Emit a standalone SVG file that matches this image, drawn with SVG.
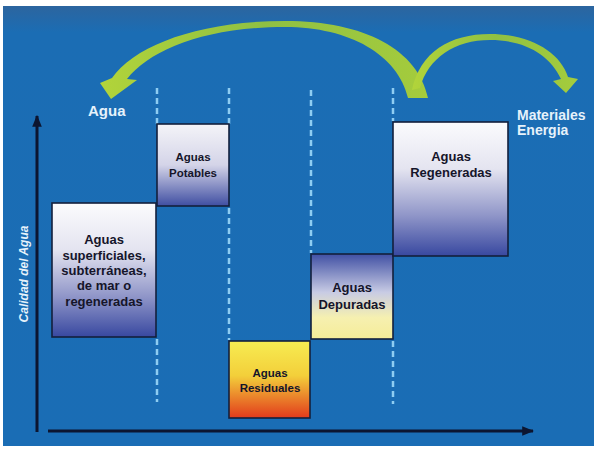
<svg xmlns="http://www.w3.org/2000/svg" width="594" height="449" viewBox="0 0 594 449">
<defs>
<linearGradient id="bg" x1="0" y1="0" x2="0" y2="1">
<stop offset="0" stop-color="#2c659f"/>
<stop offset="0.06" stop-color="#1b6db4"/>
<stop offset="1" stop-color="#1a6db5"/>
</linearGradient>
<linearGradient id="gWhiteBlue" x1="0" y1="0" x2="0" y2="1">
<stop offset="0" stop-color="#fbfbfd"/>
<stop offset="0.35" stop-color="#e4e4f0"/>
<stop offset="0.7" stop-color="#8f95c8"/>
<stop offset="1" stop-color="#3848a0"/>
</linearGradient>
<linearGradient id="gPot" x1="0" y1="0" x2="0" y2="1">
<stop offset="0" stop-color="#f4f4f8"/>
<stop offset="0.5" stop-color="#d4d4e8"/>
<stop offset="1" stop-color="#3f4ea2"/>
</linearGradient>
<linearGradient id="gRes" x1="0" y1="0" x2="0" y2="1">
<stop offset="0" stop-color="#f7ec52"/>
<stop offset="0.45" stop-color="#f3cf3a"/>
<stop offset="1" stop-color="#e23a1c"/>
</linearGradient>
<linearGradient id="gDep" x1="0" y1="0" x2="0" y2="1">
<stop offset="0" stop-color="#4050a4"/>
<stop offset="0.45" stop-color="#c8cbe4"/>
<stop offset="0.75" stop-color="#f6f0b0"/>
<stop offset="1" stop-color="#f5ec98"/>
</linearGradient>
<linearGradient id="gGreen" x1="0" y1="0" x2="1" y2="0">
<stop offset="0" stop-color="#b2d43a"/>
<stop offset="0.5" stop-color="#8fc043"/>
<stop offset="1" stop-color="#a5cc3c"/>
</linearGradient>
<marker id="ah" viewBox="0 0 10 10" refX="9" refY="5" markerWidth="4" markerHeight="4" orient="auto" markerUnits="strokeWidth">
<path d="M0,1 L10,5 L0,9 Z" fill="#0c1530"/>
</marker>
<style>
.box{stroke:#13203c;stroke-width:1.6}
.dash{stroke:#8ecdf2;stroke-width:2.5;stroke-dasharray:6 4;fill:none}
.axis{stroke:#0c1530;stroke-width:3;fill:none}
.bt{font-family:"Liberation Sans",Arial,sans-serif;font-weight:bold;fill:#15152a;text-anchor:middle}
.wt{font-family:"Liberation Sans",Arial,sans-serif;font-weight:bold;fill:#e6f2fb}
.arrow{fill:url(#gGreen)}
</style>
</defs>
<rect x="3" y="6" width="591" height="440" fill="url(#bg)"/>

<g id="connectors">
<line class="dash" x1="157" y1="88" x2="157" y2="124"/>
<line class="dash" x1="157" y1="339" x2="157" y2="402"/>
<line class="dash" x1="229" y1="88" x2="229" y2="124"/>
<line class="dash" x1="229" y1="208" x2="229" y2="340"/>
<line class="dash" x1="311" y1="90" x2="311" y2="253"/>
<line class="dash" x1="393" y1="88" x2="393" y2="121"/>
<line class="dash" x1="393" y1="341" x2="393" y2="404"/>
<path class="arrow" d="M 428 98 C 418 50, 365 21, 285 21 C 200 21, 135 45, 112 78 L 100 83 L 111 99 L 137 80 L 127 79 C 150 50, 205 27, 285 27 C 350 27, 398 55, 408 98 Z"/>
<path class="arrow" d="M 412 90 C 420 52, 450 34, 490 34 C 530 34, 560 52, 568 77 L 578 79 L 566 93 L 553 81 L 561 79 C 550 55, 525 40, 490 40 C 455 40, 428 58, 420 88 Z"/>
<line class="axis" x1="37" y1="432" x2="37" y2="116" marker-end="url(#ah)"/>
<line class="axis" x1="48" y1="431" x2="533" y2="431" marker-end="url(#ah)"/>
</g>

<g id="superficiales">
<rect class="box" x="52" y="203" width="104" height="134" fill="url(#gWhiteBlue)"/>
<text class="bt" font-size="13" x="104" y="244">Aguas</text>
<text class="bt" font-size="13" x="104" y="260">superficiales,</text>
<text class="bt" font-size="13" x="104" y="275">subterráneas,</text>
<text class="bt" font-size="13" x="104" y="290">de mar o</text>
<text class="bt" font-size="13" x="104" y="306">regeneradas</text>
</g>

<g id="potables">
<rect class="box" x="157" y="124" width="72" height="82" fill="url(#gPot)"/>
<text class="bt" font-size="11.5" x="193" y="161">Aguas</text>
<text class="bt" font-size="11.5" x="193" y="177">Potables</text>
</g>

<g id="residuales">
<rect class="box" x="229" y="341" width="81" height="77" fill="url(#gRes)"/>
<text class="bt" font-size="11.5" x="270" y="377">Aguas</text>
<text class="bt" font-size="11.5" x="270" y="392">Residuales</text>
</g>

<g id="depuradas">
<rect class="box" x="311" y="254" width="82" height="85" fill="url(#gDep)"/>
<text class="bt" font-size="13" x="352" y="292">Aguas</text>
<text class="bt" font-size="13" x="352" y="309">Depuradas</text>
</g>

<g id="regeneradas">
<rect class="box" x="393" y="122" width="115" height="134" fill="url(#gWhiteBlue)"/>
<text class="bt" font-size="13" x="451" y="161">Aguas</text>
<text class="bt" font-size="13" x="451" y="177">Regeneradas</text>
</g>

<g id="labels">
<text class="wt" font-size="15" x="88" y="116">Agua</text>
<text class="wt" font-size="14" x="517" y="120" fill="#d8ebf8">Materiales</text>
<text class="wt" font-size="14" x="517" y="135" fill="#d8ebf8">Energia</text>
<text class="wt" font-size="12" font-style="italic" transform="translate(28,274) rotate(-90)" text-anchor="middle">Calidad del Agua</text>
</g>
</svg>
